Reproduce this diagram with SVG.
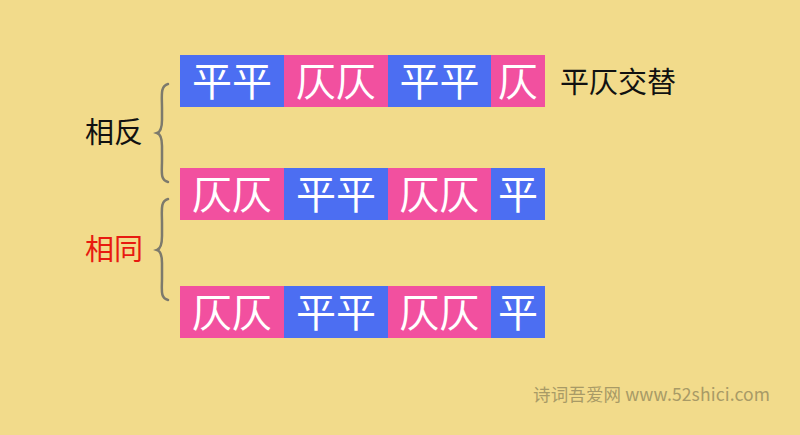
<svg xmlns="http://www.w3.org/2000/svg" width="800" height="435" viewBox="0 0 800 435">
<style>
.b{fill:#4c6ef2}
.p{fill:#f2509f}
.t{font-family:"Noto Sans CJK SC","Noto Sans",sans-serif;font-size:40px;fill:#ffffff;text-anchor:middle}
.lab{font-family:"Noto Sans CJK SC","Noto Sans",sans-serif;font-size:29px}
.brace{fill:none;stroke:#7d7a6c;stroke-width:2.5;stroke-linecap:round}
</style>
<rect width="800" height="435" fill="#f2db8b"/>
<g id="row1">
<rect class="b" x="180" y="55" width="104" height="52"/>
<rect class="p" x="284" y="55" width="104" height="52"/>
<rect class="b" x="388" y="55" width="103" height="52"/>
<rect class="p" x="491" y="55" width="54" height="52"/>
<text class="t" x="232" y="96">平平</text>
<text class="t" x="336" y="96">仄仄</text>
<text class="t" x="439.5" y="96">平平</text>
<text class="t" x="518" y="96">仄</text>
</g>
<g id="row2">
<rect class="p" x="180" y="168" width="104" height="52"/>
<rect class="b" x="284" y="168" width="104" height="52"/>
<rect class="p" x="388" y="168" width="103" height="52"/>
<rect class="b" x="491" y="168" width="54" height="52"/>
<text class="t" x="232" y="209">仄仄</text>
<text class="t" x="336" y="209">平平</text>
<text class="t" x="439.5" y="209">仄仄</text>
<text class="t" x="518" y="209">平</text>
</g>
<g id="row3">
<rect class="p" x="180" y="286" width="104" height="52"/>
<rect class="b" x="284" y="286" width="104" height="52"/>
<rect class="p" x="388" y="286" width="103" height="52"/>
<rect class="b" x="491" y="286" width="54" height="52"/>
<text class="t" x="232" y="327">仄仄</text>
<text class="t" x="336" y="327">平平</text>
<text class="t" x="439.5" y="327">仄仄</text>
<text class="t" x="518" y="327">平</text>
</g>
<g id="label-alt"><text class="lab" x="560" y="93" fill="#111111">平仄交替</text></g>
<g id="label-opposite"><text class="lab" x="85" y="143" fill="#111111">相反</text></g>
<g id="label-same"><text class="lab" x="85" y="260" fill="#e81a10">相同</text></g>
<g id="braces">
<path class="brace" d="M168 84 C160 86 162 96 162 108 L162 120 C162 128 160 132 157 133 C160 134 162 138 162 146 L162 160 C162 172 160 180 168 182"/>
<path class="brace" d="M168 199 C160 201 162 211 162 223 L162 236 C162 244 160 249 157 250 C160 251 162 255 162 263 L162 278 C162 290 160 298 168 300"/>
</g>
<text x="533" y="401" font-family="'Noto Sans CJK SC','Noto Sans',sans-serif" font-size="17.5" fill="#a89a66" textLength="237" lengthAdjust="spacing">诗词吾爱网 www.52shici.com</text>
</svg>
